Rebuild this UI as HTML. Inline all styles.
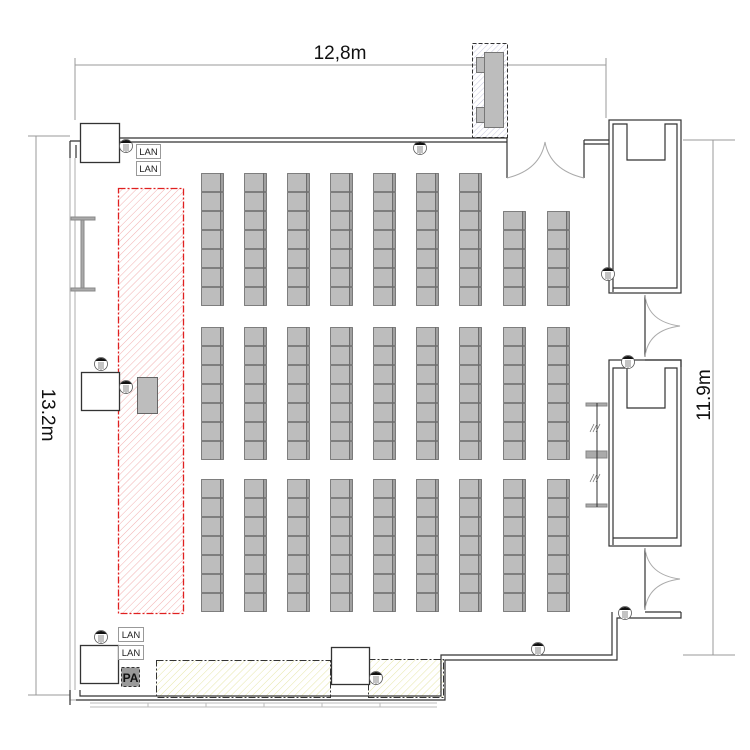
<!DOCTYPE html>
<html><head><meta charset="utf-8"><style>html,body{margin:0;padding:0;background:#fff}svg{display:block}</style></head>
<body>
<svg width="750" height="750" viewBox="0 0 750 750" xmlns="http://www.w3.org/2000/svg" font-family="Liberation Sans, sans-serif">
<defs>
<pattern id="red" width="5" height="5" patternUnits="userSpaceOnUse" patternTransform="rotate(45)"><line x1="0" y1="0" x2="0" y2="5" stroke="#f2b0b0" stroke-width="1"/></pattern>
<pattern id="yel" width="5" height="5" patternUnits="userSpaceOnUse" patternTransform="rotate(45)"><line x1="0" y1="0" x2="0" y2="5" stroke="#e6e6a8" stroke-width="1"/></pattern>
<pattern id="blu" width="4" height="4" patternUnits="userSpaceOnUse" patternTransform="rotate(45)"><line x1="0" y1="0" x2="0" y2="4" stroke="#c8c8e0" stroke-width="1"/></pattern>
<g id="s"><rect x="0.5" y="0.5" width="19" height="18" fill="#bdbdbd" stroke="#666" stroke-width="0.8"/><rect x="19.5" y="0.5" width="3" height="18" fill="#a0a0a0" stroke="#666" stroke-width="0.8"/></g>
<g id="c5"><use href="#s" y="0"/><use href="#s" y="19"/><use href="#s" y="38"/><use href="#s" y="57"/><use href="#s" y="76"/></g>
<g id="c7"><use href="#c5"/><use href="#s" y="95"/><use href="#s" y="114"/></g>
<g id="o"><circle cx="0" cy="0" r="6.5" fill="#fff" stroke="#555" stroke-width="0.8"/><path d="M-5.5,-3 A6.5,6.5 0 0 1 5.5,-3 Z" fill="#111"/><line x1="-2" y1="-2" x2="-2" y2="5" stroke="#555" stroke-width="0.7"/><line x1="0" y1="-2" x2="0" y2="6" stroke="#555" stroke-width="0.7"/><line x1="2" y1="-2" x2="2" y2="5" stroke="#555" stroke-width="0.7"/></g>
</defs>

<!-- dimensions -->
<g stroke="#999" stroke-width="1" fill="none">
<line x1="75" y1="65" x2="606" y2="65"/><line x1="75" y1="58" x2="75" y2="120"/><line x1="606" y1="58" x2="606" y2="118"/>
<line x1="36" y1="136" x2="36" y2="695"/><line x1="28" y1="136" x2="70" y2="136"/><line x1="28" y1="695" x2="70" y2="695"/>
<line x1="713" y1="140" x2="713" y2="655"/><line x1="683" y1="140" x2="735" y2="140"/><line x1="683" y1="655" x2="735" y2="655"/>
</g>
<text x="340" y="59" font-size="19" text-anchor="middle" fill="#111">12,8m</text>
<text transform="translate(42,415) rotate(90)" font-size="19" text-anchor="middle" fill="#111">13.2m</text>
<text transform="translate(710,395) rotate(-90)" font-size="19" text-anchor="middle" fill="#111">11.9m</text>

<!-- hatched zones -->
<rect x="118.5" y="188.5" width="65" height="425" fill="url(#red)" stroke="#e02020" stroke-width="1.3" stroke-dasharray="7,2,2,2"/>
<rect x="156.5" y="660.5" width="174" height="37" fill="url(#yel)" stroke="#333" stroke-width="1" stroke-dasharray="7,2,2,2"/>
<rect x="368.5" y="659.5" width="75" height="38" fill="url(#yel)" stroke="#333" stroke-width="1" stroke-dasharray="7,2,2,2"/>

<!-- walls -->
<g fill="none" stroke="#333" stroke-width="1.2">
<path d="M70,141 V158 M70,141 H80 M76,145 V158"/>
<line x1="120" y1="138" x2="507" y2="138"/><line x1="120" y1="142" x2="507" y2="142"/>
<path d="M507,138 V178 M584,140 V178 M584,140 H609"/>
<line x1="584" y1="144" x2="609" y2="144"/>
<rect x="609" y="120" width="72" height="173"/>
<path d="M613,292 V124 H627 V160 H665 V124 H677 V288 H613"/>
<path d="M645,295 V357 M645,360 H681 V367"/>
<rect x="609" y="360" width="72" height="186"/>
<path d="M613,545 V368 H627 V408 H665 V368 H677 V538 H613"/>
<path d="M645,548 V610 M645,612 H681 M681,612 V618 H617 V660 H445 V700 H76 M612,612 V655 H441 V696 H80 V690"/>
<path d="M70,158 V700 H76" stroke="#bbb"/>
<line x1="75" y1="158" x2="75" y2="690" stroke="#bbb"/>
<line x1="70" y1="690" x2="70" y2="705"/>
</g>
<!-- doors arcs -->
<g fill="none" stroke="#aaa" stroke-width="1">
<path d="M507,178 Q540,170 545,142 Q550,170 584,178"/>
<path d="M645,295 Q648,322 680,326 Q648,330 645,357"/>
<path d="M645,548 Q648,575 680,579 Q648,583 645,610"/>
</g>
<!-- bottom strip -->
<g stroke="#bbb" fill="none"><line x1="90" y1="703" x2="437" y2="703"/><line x1="90" y1="707" x2="437" y2="707"/>
<line x1="148" y1="703" x2="148" y2="707"/><line x1="206" y1="703" x2="206" y2="707"/><line x1="264" y1="703" x2="264" y2="707"/><line x1="322" y1="703" x2="322" y2="707"/><line x1="380" y1="703" x2="380" y2="707"/></g>

<!-- boxes -->
<g fill="#fff" stroke="#333" stroke-width="1.3">
<rect x="80.5" y="123.5" width="39" height="39"/>
<rect x="81.5" y="372.5" width="38" height="38"/>
<rect x="80.5" y="645.5" width="38" height="38"/>
<rect x="331.5" y="647.5" width="38" height="37"/>
</g>
<rect x="137.5" y="377.5" width="20" height="36" fill="#bdbdbd" stroke="#666"/>

<!-- whiteboard -->
<g stroke="#888" fill="#aaa"><rect x="71" y="217" width="24" height="3"/><rect x="71" y="288" width="24" height="3"/><rect x="81" y="220" width="3" height="68"/></g>
<!-- right rail -->
<g stroke="#888" fill="#aaa"><rect x="586" y="403" width="21" height="3"/><rect x="586" y="451" width="21" height="7"/><rect x="586" y="504" width="21" height="3"/></g>
<line x1="597" y1="403" x2="597" y2="507" stroke="#333"/>
<g stroke="#666" stroke-width="0.7"><line x1="590" y1="432" x2="594" y2="424"/><line x1="593" y1="432" x2="597" y2="424"/><line x1="596" y1="432" x2="600" y2="424"/><line x1="590" y1="482" x2="594" y2="474"/><line x1="593" y1="482" x2="597" y2="474"/><line x1="596" y1="482" x2="600" y2="474"/></g>

<!-- top booth -->
<rect x="472.5" y="43.5" width="35" height="94" fill="url(#blu)" stroke="#333" stroke-dasharray="4,2"/>
<rect x="484.5" y="52.5" width="19" height="75" fill="#bdbdbd" stroke="#777"/>
<rect x="476.5" y="57.5" width="8" height="15" fill="#bdbdbd" stroke="#777"/>
<rect x="476.5" y="107.5" width="8" height="15" fill="#bdbdbd" stroke="#777"/>

<!-- seats -->
<use href="#c7" x="201" y="173"/><use href="#c7" x="244" y="173"/><use href="#c7" x="287" y="173"/><use href="#c7" x="330" y="173"/><use href="#c7" x="373" y="173"/><use href="#c7" x="416" y="173"/><use href="#c7" x="459" y="173"/>
<use href="#c5" x="503" y="211"/><use href="#c5" x="547" y="211"/>
<use href="#c7" x="201" y="327"/><use href="#c7" x="244" y="327"/><use href="#c7" x="287" y="327"/><use href="#c7" x="330" y="327"/><use href="#c7" x="373" y="327"/><use href="#c7" x="416" y="327"/><use href="#c7" x="459" y="327"/><use href="#c7" x="503" y="327"/><use href="#c7" x="547" y="327"/>
<use href="#c7" x="201" y="479"/><use href="#c7" x="244" y="479"/><use href="#c7" x="287" y="479"/><use href="#c7" x="330" y="479"/><use href="#c7" x="373" y="479"/><use href="#c7" x="416" y="479"/><use href="#c7" x="459" y="479"/><use href="#c7" x="503" y="479"/><use href="#c7" x="547" y="479"/>

<!-- outlets -->
<use href="#o" x="126" y="146"/><use href="#o" x="420" y="148"/><use href="#o" x="608" y="274"/><use href="#o" x="628" y="362"/><use href="#o" x="101" y="364"/><use href="#o" x="126" y="387"/><use href="#o" x="101" y="637"/><use href="#o" x="538" y="649"/><use href="#o" x="376" y="678"/><use href="#o" x="625" y="613"/>

<!-- LAN / PA -->
<g font-size="9.5" text-anchor="middle" fill="#222">
<rect x="136.5" y="144.5" width="24" height="14" fill="#fff" stroke="#999"/><text x="148.5" y="155">LAN</text>
<rect x="136.5" y="161.5" width="24" height="14" fill="#fff" stroke="#999"/><text x="148.5" y="172">LAN</text>
<rect x="118.5" y="627.5" width="25" height="14" fill="#fff" stroke="#999"/><text x="131" y="638">LAN</text>
<rect x="118.5" y="645.5" width="25" height="14" fill="#fff" stroke="#999"/><text x="131" y="656">LAN</text>
<rect x="121.5" y="667.5" width="18" height="19" fill="#999" stroke="#333" stroke-dasharray="3,2"/>
<text x="130.5" y="682" font-size="12" font-weight="bold" fill="#111">PA</text>
</g>
</svg>
</body></html>
